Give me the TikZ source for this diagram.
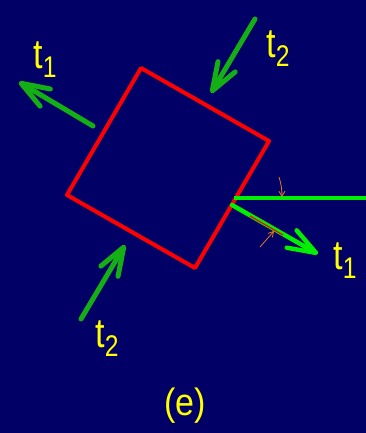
\documentclass[tikz,border=0pt]{standalone}
\usepackage{fontspec}
\setmainfont{Liberation Sans}
\usetikzlibrary{arrows.meta}
\definecolor{bgnavy}{RGB}{0,0,102}
\definecolor{stressgreen}{RGB}{20,175,20}
\definecolor{brightgreen}{RGB}{0,240,0}
\definecolor{lblyellow}{RGB}{255,255,0}
\definecolor{tinyorange}{RGB}{235,120,30}
\newcommand{\tsub}[1]{\scalebox{0.95}[1.15]{{\fontsize{36}{36}\selectfont t}\raisebox{-8pt}{\fontsize{26}{26}\selectfont #1}}}

\begin{document}
\begin{tikzpicture}[
    x=1pt,y=-1pt,
    element/.style={draw=red,line width=4pt,line join=round},
    stress/.style={stressgreen,line width=5pt,line cap=round,
      -{Straight Barb[length=28pt,width=20pt,line cap=round,line join=round]}},
    sheared/.style={brightgreen,line width=4.5pt,line cap=round,
      -{Straight Barb[length=28pt,width=20pt,line cap=round,line join=round]}},
    baseline/.style={brightgreen,line width=4pt},
    angle/.style={tinyorange,line width=0.8pt,-{Straight Barb[length=5pt,width=6pt]}},
    label/.style={text=lblyellow,inner sep=0pt}
  ]
    \useasboundingbox (0,0) rectangle (366,433);
    \fill[bgnavy] (0,0) rectangle (366,433);

    % rotated element
    \coordinate (top) at (141,68);
    \coordinate (right) at (269,141);
    \coordinate (bottom) at (195,268);
    \coordinate (left) at (67,195);
    \draw[element] (top) -- (right) -- (bottom) -- (left) -- cycle;

    % stress arrows
    \coordinate (t1ltail) at (93,126);
    \coordinate (t1ltip) at (19,82);
    \coordinate (t2ttail) at (255,19);
    \coordinate (t2ttip) at (211,93);
    \coordinate (t2btail) at (81,319);
    \coordinate (t2btip) at (125,245);
    \draw[stress] (t1ltail) -- (t1ltip);
    \draw[stress] (t2ttail) -- (t2ttip);
    \draw[stress] (t2btail) -- (t2btip);

    % deformed edge
    \coordinate (hstart) at (234,198);
    \coordinate (hend) at (366,198);
    \coordinate (t1rtail) at (232,205);
    \coordinate (t1rtip) at (318,254);
    \draw[baseline] (hstart) -- (hend);
    \draw[sheared] (t1rtail) -- (t1rtip);
    \coordinate (marka) at (250,216);
    \coordinate (markb) at (283,235);
    \draw[red,line width=1.2pt] (marka) -- (markb);
    \coordinate (anga) at (279,177);
    \coordinate (angb) at (282,197);
    \coordinate (angc) at (260,247);
    \coordinate (angd) at (274,231);
    \draw[angle] (anga) to[bend left=8] (angb);
    \draw[angle] (angc) -- (angd);

    % labels
    \node[label] (t1l) at (45,60) {\tsub{1}};
    \node[label] (t2t) at (278,49) {\tsub{2}};
    \node[label] (t2b) at (107,339) {\tsub{2}};
    \node[label] (t1r) at (345,261) {\tsub{1}};
    \node[label] (caption) at (185,406) {\scalebox{1}[1.12]{\fontsize{34}{34}\selectfont (e)}};
  \end{tikzpicture}
\end{document}
